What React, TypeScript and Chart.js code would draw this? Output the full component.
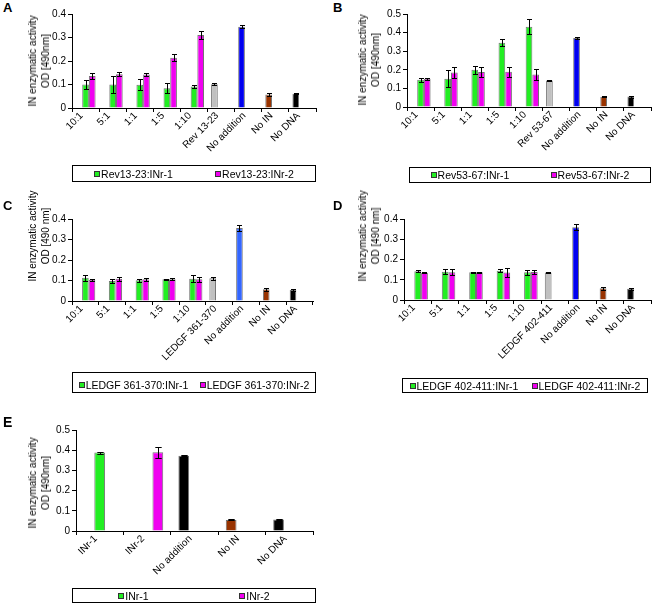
import React, { useEffect, useRef } from 'react';
import { Chart, registerables } from 'chart.js';

Chart.register(...registerables);

const FONT = '"Liberation Sans", Arial, Helvetica, sans-serif';

const GREEN = '#22ee22';
const MAGENTA = '#f000f0';
const GREY = '#c0c0c0';
const BLUE = '#0000f0';
const LIGHT_BLUE = '#3366ff';
const BROWN = '#993300';
const BLACK = '#000000';

// ---------- Panel A ----------
const catsA = ['10:1', '5:1', '1:1', '1:5', '1:10', 'Rev 13-23', 'No addition', 'No IN', 'No DNA'];
const legendA = ['Rev13-23:INr-1', 'Rev13-23:INr-2'];
const inr1A = [0.100, 0.100, 0.099, 0.084, 0.092, null, null, null, null];
const inr1ErrA = [0.018, 0.038, 0.024, 0.022, 0.008, null, null, null, null];
const inr2A = [0.136, 0.144, 0.143, 0.214, 0.311, null, null, null, null];
const inr2ErrA = [0.014, 0.009, 0.008, 0.015, 0.016, null, null, null, null];
const ctrlA = [null, null, null, null, null, 0.101, 0.346, 0.057, 0.061];
const ctrlErrA = [null, null, null, null, null, 0.004, 0.006, 0.005, 0.003];
const ctrlColorsA = [GREY, GREY, GREY, GREY, GREY, GREY, BLUE, BROWN, BLACK];

// ---------- Panel B ----------
const catsB = ['10:1', '5:1', '1:1', '1:5', '1:10', 'Rev 53-67', 'No addition', 'No IN', 'No DNA'];
const legendB = ['Rev53-67:INr-1', 'Rev53-67:INr-2'];
const inr1B = [0.147, 0.152, 0.200, 0.346, 0.432, null, null, null, null];
const inr1ErrB = [0.011, 0.045, 0.021, 0.020, 0.040, null, null, null, null];
const inr2B = [0.152, 0.185, 0.188, 0.189, 0.175, null, null, null, null];
const inr2ErrB = [0.006, 0.030, 0.026, 0.027, 0.028, null, null, null, null];
const ctrlB = [null, null, null, null, null, 0.142, 0.371, 0.055, 0.056];
const ctrlErrB = [null, null, null, null, null, 0.004, 0.003, 0.002, 0.005];
const ctrlColorsB = [GREY, GREY, GREY, GREY, GREY, GREY, BLUE, BROWN, BLACK];

// ---------- Panel C ----------
const catsC = ['10:1', '5:1', '1:1', '1:5', '1:10', 'LEDGF 361-370', 'No addition', 'No IN', 'No DNA'];
const legendC = ['LEDGF 361-370:INr-1', 'LEDGF 361-370:INr-2'];
const inr1C = [0.114, 0.098, 0.101, 0.106, 0.109, null, null, null, null];
const inr1ErrC = [0.014, 0.008, 0.007, 0.003, 0.017, null, null, null, null];
const inr2C = [0.104, 0.108, 0.106, 0.106, 0.106, null, null, null, null];
const inr2ErrC = [0.004, 0.010, 0.006, 0.005, 0.012, null, null, null, null];
const ctrlC = [null, null, null, null, null, 0.111, 0.356, 0.057, 0.054];
const ctrlErrC = [null, null, null, null, null, 0.007, 0.015, 0.007, 0.004];
const ctrlColorsC = [GREY, GREY, GREY, GREY, GREY, GREY, LIGHT_BLUE, BROWN, BLACK];

// ---------- Panel D ----------
const catsD = ['10:1', '5:1', '1:1', '1:5', '1:10', 'LEDGF 402-411', 'No addition', 'No IN', 'No DNA'];
const legendD = ['LEDGF 402-411:INr-1', 'LEDGF 402-411:INr-2'];
const inr1D = [0.142, 0.140, 0.137, 0.145, 0.137, null, null, null, null];
const inr1ErrD = [0.004, 0.012, 0.002, 0.006, 0.012, null, null, null, null];
const inr2D = [0.135, 0.137, 0.137, 0.136, 0.138, null, null, null, null];
const inr2ErrD = [0.004, 0.014, 0.002, 0.022, 0.010, null, null, null, null];
const ctrlD = [null, null, null, null, null, 0.136, 0.359, 0.058, 0.055];
const ctrlErrD = [null, null, null, null, null, 0.004, 0.014, 0.007, 0.006];
const ctrlColorsD = [GREY, GREY, GREY, GREY, GREY, GREY, BLUE, BROWN, BLACK];

// ---------- Panel E ----------
const catsE = ['INr-1', 'INr-2', 'No addition', 'No IN', 'No DNA'];
const legendE = ['INr-1', 'INr-2'];
const inr1E = [0.388, null, null, null, null];
const inr1ErrE = [0.005, null, null, null, null];
const inr2E = [null, 0.390, null, null, null];
const inr2ErrE = [null, 0.027, null, null, null];
const ctrlE = [null, null, 0.373, 0.055, 0.057];
const ctrlErrE = [null, null, 0.002, 0.003, 0.003];
const ctrlColorsE = [BLACK, BLACK, BLACK, BROWN, BLACK];

type PanelCfg = {
  letter: string;
  letterPos: { x: number; y: number; size: number };
  cats: string[];
  legend: string[];
  inr1: (number | null)[];
  inr1Err: (number | null)[];
  inr2: (number | null)[];
  inr2Err: (number | null)[];
  ctrl: (number | null)[];
  ctrlErr: (number | null)[];
  ctrlColors: string[];
  yMax: number;
  plot: { l: number; t: number; r: number; b: number };
  catPct: number;
  cap: number;
  title: { cx: number; cy: number; line2: string };
  legendBox: { x: number; y: number; w: number; h: number; padTop?: number };
};

const panels: PanelCfg[] = [
  {
    letter: 'A', letterPos: { x: 3, y: 1, size: 13 },
    cats: catsA, legend: legendA, inr1: inr1A, inr1Err: inr1ErrA, inr2: inr2A, inr2Err: inr2ErrA,
    ctrl: ctrlA, ctrlErr: ctrlErrA, ctrlColors: ctrlColorsA, yMax: 0.4,
    plot: { l: 72, t: 14, r: 316, b: 108 }, catPct: 0.74, cap: 2.5,
    title: { cx: 39, cy: 61, line2: 'OD [490nm]' },
    legendBox: { x: 72, y: 165, w: 244, h: 17 },
  },
  {
    letter: 'B', letterPos: { x: 333, y: 1, size: 13 },
    cats: catsB, legend: legendB, inr1: inr1B, inr1Err: inr1ErrB, inr2: inr2B, inr2Err: inr2ErrB,
    ctrl: ctrlB, ctrlErr: ctrlErrB, ctrlColors: ctrlColorsB, yMax: 0.5,
    plot: { l: 407, t: 14, r: 651, b: 107 }, catPct: 0.74, cap: 2.5,
    title: { cx: 369, cy: 60, line2: 'OD [490nm]' },
    legendBox: { x: 409, y: 167, w: 242, h: 16 },
  },
  {
    letter: 'C', letterPos: { x: 3, y: 199, size: 13 },
    cats: catsC, legend: legendC, inr1: inr1C, inr1Err: inr1ErrC, inr2: inr2C, inr2Err: inr2ErrC,
    ctrl: ctrlC, ctrlErr: ctrlErrC, ctrlColors: ctrlColorsC, yMax: 0.4,
    plot: { l: 72, t: 219, r: 313, b: 301 }, catPct: 0.74, cap: 2.5,
    title: { cx: 38.5, cy: 236, line2: 'OD [490 nm]' },
    legendBox: { x: 72, y: 372, w: 244, h: 21, padTop: 5 },
  },
  {
    letter: 'D', letterPos: { x: 333, y: 199, size: 13 },
    cats: catsD, legend: legendD, inr1: inr1D, inr1Err: inr1ErrD, inr2: inr2D, inr2Err: inr2ErrD,
    ctrl: ctrlD, ctrlErr: ctrlErrD, ctrlColors: ctrlColorsD, yMax: 0.4,
    plot: { l: 404, t: 219, r: 651, b: 300 }, catPct: 0.74, cap: 2.5,
    title: { cx: 368.5, cy: 236, line2: 'OD [490 nm]' },
    legendBox: { x: 402, y: 378, w: 246, h: 15 },
  },
  {
    letter: 'E', letterPos: { x: 3, y: 415, size: 14 },
    cats: catsE, legend: legendE, inr1: inr1E, inr1Err: inr1ErrE, inr2: inr2E, inr2Err: inr2ErrE,
    ctrl: ctrlE, ctrlErr: ctrlErrE, ctrlColors: ctrlColorsE, yMax: 0.5,
    plot: { l: 76, t: 430, r: 313, b: 531 }, catPct: 0.68, cap: 3.2,
    title: { cx: 39, cy: 483, line2: 'OD [490nm]' },
    legendBox: { x: 72, y: 588, w: 244, h: 15 },
  },
];

const LW = 52; // y-axis band width inside canvas
const TP = 14; // top padding
const RP = 5; // right padding
const BH = 62; // x-axis band height

function Panel({ cfg }: { cfg: PanelCfg }) {
  const ref = useRef<HTMLCanvasElement>(null);
  const { plot } = cfg;
  const cw = plot.r - plot.l + LW + RP;
  const ch = plot.b - plot.t + TP + BH;

  useEffect(() => {
    if (!ref.current) return;
    const errorBars = {
      id: 'errorBars',
      afterDatasetsDraw(chart: any) {
        const { ctx } = chart;
        const ys = chart.scales.y;
        ctx.save();
        ctx.strokeStyle = '#000';
        ctx.lineWidth = 1;
        chart.data.datasets.forEach((ds: any, di: number) => {
          const meta = chart.getDatasetMeta(di);
          meta.data.forEach((el: any, i: number) => {
            const v = ds.data[i];
            const e = ds.errors ? ds.errors[i] : null;
            if (v == null || e == null) return;
            const x = Math.round(el.x) + 0.5;
            const yt = Math.round(ys.getPixelForValue(v + e)) + 0.5;
            const yb = Math.round(ys.getPixelForValue(v - e)) + 0.5;
            ctx.beginPath();
            ctx.moveTo(x, yt);
            ctx.lineTo(x, yb);
            ctx.moveTo(x - cfg.cap, yt);
            ctx.lineTo(x + cfg.cap, yt);
            ctx.moveTo(x - cfg.cap, yb);
            ctx.lineTo(x + cfg.cap, yb);
            ctx.stroke();
          });
        });
        ctx.restore();
      },
    };

    const barBorder = 'rgba(0,0,0,0.55)';
    const chart = new Chart(ref.current, {
      type: 'bar',
      data: {
        labels: cfg.cats,
        datasets: [
          {
            label: 'controls',
            data: cfg.ctrl,
            errors: cfg.ctrlErr,
            backgroundColor: cfg.ctrlColors,
            borderColor: barBorder,
            borderWidth: 1,
          } as any,
          {
            label: cfg.legend[0],
            data: cfg.inr1,
            errors: cfg.inr1Err,
            backgroundColor: GREEN,
            borderColor: barBorder,
            borderWidth: 1,
          } as any,
          {
            label: cfg.legend[1],
            data: cfg.inr2,
            errors: cfg.inr2Err,
            backgroundColor: MAGENTA,
            borderColor: barBorder,
            borderWidth: 1,
          } as any,
        ],
      },
      options: {
        responsive: false,
        animation: false,
        events: [],
        layout: { padding: { left: 0, top: TP, right: RP, bottom: 0 } },
        plugins: { legend: { display: false }, tooltip: { enabled: false } },
        datasets: { bar: { categoryPercentage: cfg.catPct, barPercentage: 1 } },
        scales: {
          x: {
            grid: { display: true, drawOnChartArea: false, drawTicks: true, tickLength: 4, color: '#000', lineWidth: 1, offset: true },
            border: { display: true, color: '#000', width: 1 },
            ticks: {
              autoSkip: false,
              maxRotation: 45,
              minRotation: 45,
              padding: -2,
              labelOffset: -4,
              color: '#000',
              font: { family: FONT, size: 10 },
            },
            afterFit: (s: any) => {
              s.height = BH;
              s.paddingLeft = 0;
              s.paddingRight = 0;
            },
          },
          y: {
            min: 0,
            max: cfg.yMax,
            grid: { display: true, drawOnChartArea: false, drawTicks: true, tickLength: 4, color: '#000', lineWidth: 1 },
            border: { display: true, color: '#000', width: 1 },
            ticks: {
              stepSize: 0.1,
              padding: 2,
              color: '#000',
              font: { family: FONT, size: 10 },
            },
            afterFit: (s: any) => {
              s.width = LW;
              s.paddingTop = 0;
              s.paddingBottom = 0;
            },
          },
        },
      } as any,
      plugins: [errorBars],
    });
    return () => chart.destroy();
  }, [cfg]);

  const lb = cfg.legendBox;
  return (
    <>
      <canvas
        ref={ref}
        width={cw}
        height={ch}
        style={{ position: 'absolute', left: plot.l - LW, top: plot.t - TP, width: cw, height: ch }}
      />
      <div
        style={{
          position: 'absolute',
          left: cfg.letterPos.x,
          top: cfg.letterPos.y,
          font: `bold ${cfg.letterPos.size}px ${FONT}`,
          lineHeight: `${cfg.letterPos.size}px`,
          color: '#000',
        }}
      >
        {cfg.letter}
      </div>
      <div
        style={{
          position: 'absolute',
          left: cfg.title.cx,
          top: cfg.title.cy,
          transform: 'translate(-50%, -50%) rotate(-90deg)',
          whiteSpace: 'nowrap',
          textAlign: 'center',
          font: `10px ${FONT}`,
          lineHeight: '13px',
          color: '#000',
        }}
      >
        IN enzymatic activity
        <br />
        {cfg.title.line2}
      </div>
      <div
        style={{
          position: 'absolute',
          left: lb.x,
          top: lb.y,
          width: lb.w,
          height: lb.h,
          boxSizing: 'border-box',
          border: '1px solid #000',
          display: 'flex',
          alignItems: 'center',
          paddingTop: lb.padTop || 0,
          font: `10.5px ${FONT}`,
          color: '#000',
        }}
      >
        {cfg.legend.map((name, i) => (
          <div
            key={name}
            style={{ flex: 1, display: 'flex', justifyContent: 'center', alignItems: 'center', whiteSpace: 'nowrap' }}
          >
            <span
              style={{
                display: 'inline-block',
                width: 6,
                height: 6,
                boxSizing: 'border-box',
                border: '1px solid #333',
                background: i === 0 ? GREEN : MAGENTA,
                marginRight: 1,
              }}
            />
            <span>{name}</span>
          </div>
        ))}
      </div>
    </>
  );
}

export default function App() {
  return (
    <div
      style={{
        position: 'fixed',
        left: 0,
        top: 0,
        width: 656,
        height: 604,
        background: '#fff',
        overflow: 'hidden',
      }}
    >
      {panels.map((p) => (
        <Panel key={p.letter} cfg={p} />
      ))}
    </div>
  );
}
